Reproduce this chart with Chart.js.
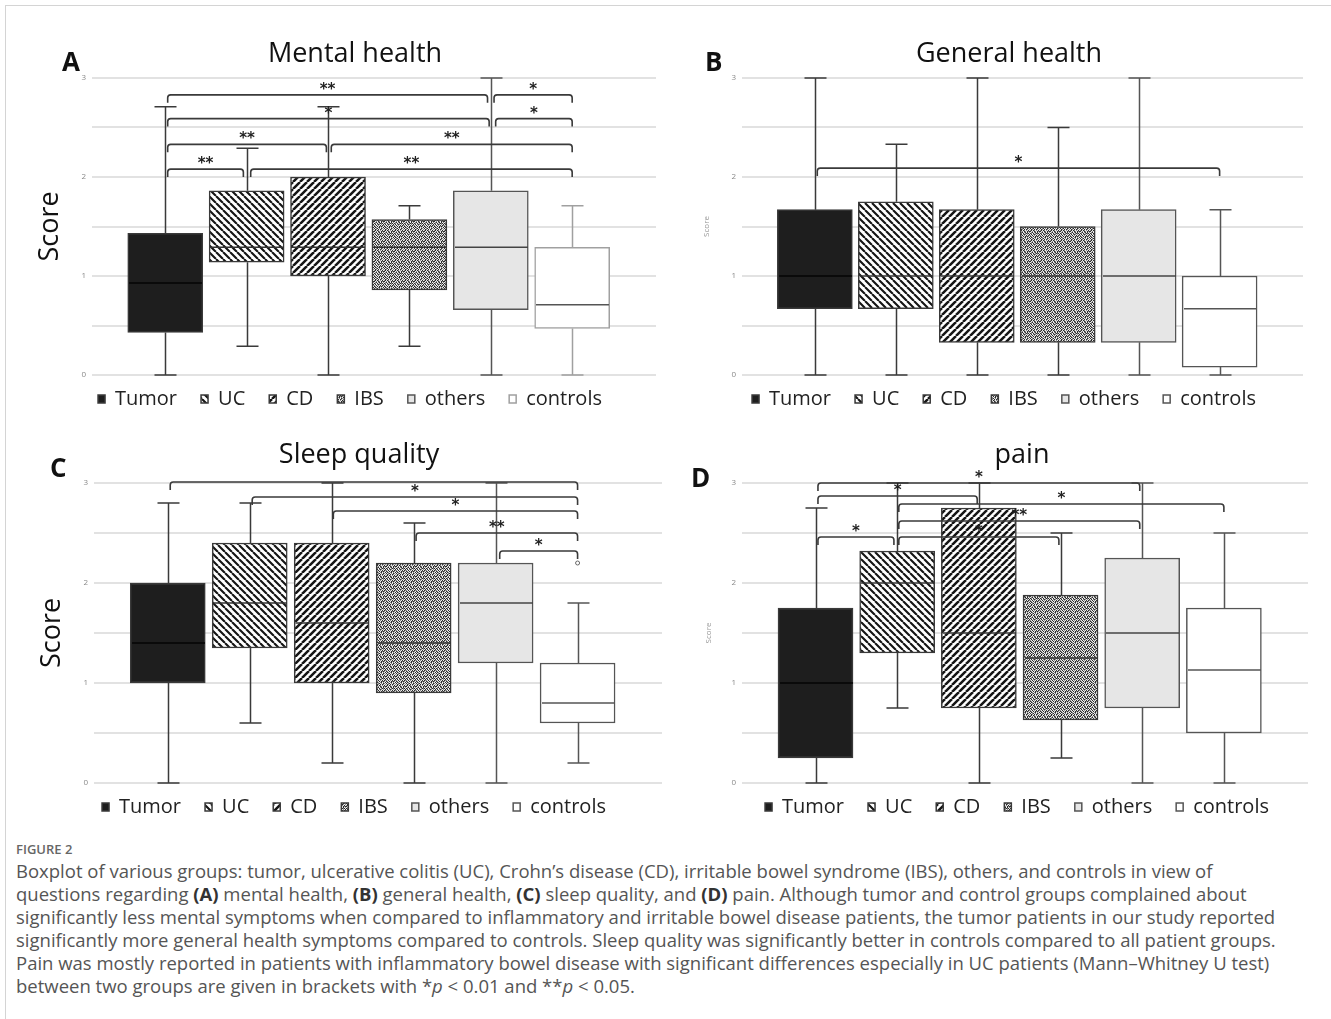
<!DOCTYPE html>
<html>
<head>
<meta charset="utf-8">
<script src="https://cdn.jsdelivr.net/npm/chart.js@4.4.1/dist/chart.umd.min.js"></script>
<style>
  body { margin: 0; background: #fff; width: 1331px; height: 1019px; position: relative; overflow: hidden; font-family: 'Open Sans', sans-serif; }
  .frame { position: absolute; left: 5px; top: 5px; right: 0; bottom: 0; border-top: 1px solid #d4d4d4; border-left: 1px solid #d4d4d4; }
  .panel { position: absolute; }
  .letter { position: absolute; font-weight: bold; font-size: 26px; line-height: 26px; color: #111; }
  .figlabel { position: absolute; left: 16px; top: 843px; font-size: 13px; line-height: 13px; font-weight: 600; color: #666; }
  .caption { position: absolute; left: 16px; top: 859px; font-size: 18.5px; line-height: 23px; color: #555; white-space: nowrap; }
  .caption b { color: #333; }
</style>
</head>
<body>
<div class="frame"></div>
<div class="panel" style="left:34px;top:28px"><canvas id="chartA" width="642" height="391"></canvas></div>
<div class="panel" style="left:690px;top:28px"><canvas id="chartB" width="638" height="391"></canvas></div>
<div class="panel" style="left:36px;top:433px"><canvas id="chartC" width="646" height="394"></canvas></div>
<div class="panel" style="left:700px;top:433px"><canvas id="chartD" width="644" height="394"></canvas></div>
<div class="letter" style="left:62px;top:48px">A</div>
<div class="letter" style="left:705px;top:48px">B</div>
<div class="letter" style="left:50px;top:454px">C</div>
<div class="letter" style="left:691px;top:464px">D</div>
<div class="figlabel">FIGURE 2</div>
<div class="caption">
Boxplot of various groups: tumor, ulcerative colitis (UC), Crohn’s disease (CD), irritable bowel syndrome (IBS), others, and controls in view of<br>
questions regarding <b>(A)</b> mental health, <b>(B)</b> general health, <b>(C)</b> sleep quality, and <b>(D)</b> pain. Although tumor and control groups complained about<br>
significantly less mental symptoms when compared to inflammatory and irritable bowel disease patients, the tumor patients in our study reported<br>
significantly more general health symptoms compared to controls. Sleep quality was significantly better in controls compared to all patient groups.<br>
Pain was mostly reported in patients with inflammatory bowel disease with significant differences especially in UC patients (Mann–Whitney U test)<br>
between two groups are given in brackets with *<i>p</i> &lt; 0.01 and **<i>p</i> &lt; 0.05.
</div>
<script>
const groups = ['Tumor', 'UC', 'CD', 'IBS', 'others', 'controls'];

// (A) Mental health
const mentalMin = [0, 0.29, 0, 0.29, 0, 0];
const mentalQ1 = [0.43, 1.14, 1.0, 0.86, 0.66, 0.47];
const mentalMedian = [0.93, 1.29, 1.29, 1.29, 1.29, 0.71];
const mentalQ3 = [1.43, 1.86, 2.0, 1.57, 1.86, 1.29];
const mentalMax = [2.71, 2.29, 2.71, 1.71, 3.0, 1.71];
// brackets: [from group, to group, level, label]
const mentalBrackets = [
  [0.03, 3.96, 2.83, '**'], [4.04, 5, 2.83, '*'],
  [0.03, 3.98, 2.59, '*'], [4.06, 5, 2.59, '*'],
  [0.03, 1.98, 2.33, '**'], [2.04, 5, 2.33, '**'],
  [0.03, 0.96, 2.08, '**'], [1.05, 5, 2.08, '**']
];

// (B) General health
const generalMin = [0, 0, 0, 0, 0, 0];
const generalQ1 = [0.67, 0.67, 0.33, 0.33, 0.33, 0.08];
const generalMedian = [1.0, 1.0, 1.0, 1.0, 1.0, 0.67];
const generalQ3 = [1.67, 1.75, 1.67, 1.5, 1.67, 1.0];
const generalMax = [3.0, 2.33, 3.0, 2.5, 3.0, 1.67];
const generalBrackets = [[0.03, 5, 2.09, '*']];

// (C) Sleep quality
const sleepMin = [0, 0.6, 0.2, 0, 0, 0.2];
const sleepQ1 = [1.0, 1.35, 1.0, 0.9, 1.2, 0.6];
const sleepMedian = [1.4, 1.8, 1.6, 1.4, 1.8, 0.8];
const sleepQ3 = [2.0, 2.4, 2.4, 2.2, 2.2, 1.2];
const sleepMax = [2.8, 2.8, 3.0, 2.6, 3.0, 1.8];
const sleepOutliers = [[5, 2.2]];
const sleepBrackets = [
  [0.03, 5, 3.01, ''], [1.03, 5, 2.86, '*'], [2.02, 5, 2.72, '*'],
  [3.03, 5, 2.5, '**'], [4.05, 5, 2.32, '*']
];

// (D) Pain
const painMin = [0, 0.75, 0, 0.25, 0, 0];
const painQ1 = [0.25, 1.3, 0.75, 0.63, 0.75, 0.5];
const painMedian = [1.0, 2.0, 1.5, 1.25, 1.5, 1.13];
const painQ3 = [1.75, 2.32, 2.75, 1.88, 2.25, 1.75];
const painMax = [2.75, 3.0, 3.0, 2.5, 3.0, 2.5];
const painBrackets = [
  [0.03, 3.97, 3.0, '*'], [0.03, 1.98, 2.87, '*'], [1.02, 5, 2.79, '*'],
  [1.02, 3.97, 2.62, '**'], [0.03, 0.96, 2.46, '*'], [1.02, 2.98, 2.46, '*']
];

Chart.defaults.font.family = "'Open Sans', sans-serif";

// fill patterns
function stripes(forward) {
  const s = 7;
  const c = document.createElement('canvas');
  c.width = c.height = s;
  const g = c.getContext('2d');
  g.fillStyle = '#fff';
  g.fillRect(0, 0, s, s);
  g.strokeStyle = '#151515';
  g.lineWidth = forward ? 2.5 : 2.1;
  g.beginPath();
  for (const k of [-s, 0, s]) {
    if (forward) { g.moveTo(k, s); g.lineTo(k + s, 0); }
    else { g.moveTo(k, 0); g.lineTo(k + s, s); }
  }
  g.stroke();
  return g.createPattern(c, 'repeat');
}
function speckle() {
  const rows = ['1021020120', '0120101202', '2101202010', '1020120121', '0210210102',
                '1201021210', '0102120201', '2010201012', '1201012120', '0120210201'];
  const shades = { '0': '#efefef', '1': '#2a2a2a', '2': '#8a8a8a' };
  const c = document.createElement('canvas');
  c.width = c.height = 10;
  const g = c.getContext('2d');
  rows.forEach((r, y) => r.split('').forEach((b, x) => {
    g.fillStyle = shades[b];
    g.fillRect(x, y, 1, 1);
  }));
  return g.createPattern(c, 'repeat');
}
const fills = ['#1e1e1e', stripes(false), stripes(true), speckle(), '#e6e6e6', '#ffffff'];
const medianColors = ['#050505', '#333', '#333', '#333', '#444', '#555'];

function boxExtras(st, brackets, outliers, lineColors) {
  return {
    id: 'boxExtras',
    afterDatasetsDraw(chart) {
      const { ctx, scales: { x, y } } = chart;
      ctx.save();
      ctx.lineWidth = 1.5;
      st.min.forEach((_, i) => {
        const cx = Math.round(x.getPixelForValue(i)) + 0.5;
        const half = chart.getDatasetMeta(i).data[0].width / 2;
        const yMin = y.getPixelForValue(st.min[i]), yQ1 = y.getPixelForValue(st.q1[i]);
        const yQ3 = y.getPixelForValue(st.q3[i]), yMax = y.getPixelForValue(st.max[i]);
        const yMed = y.getPixelForValue(st.med[i]);
        ctx.strokeStyle = lineColors[i];
        ctx.beginPath();
        ctx.moveTo(cx, yQ3); ctx.lineTo(cx, yMax);
        ctx.moveTo(cx - 11, yMax); ctx.lineTo(cx + 11, yMax);
        ctx.moveTo(cx, yQ1); ctx.lineTo(cx, yMin);
        ctx.moveTo(cx - 11, yMin); ctx.lineTo(cx + 11, yMin);
        ctx.stroke();
        ctx.strokeStyle = medianColors[i];
        ctx.beginPath();
        ctx.moveTo(cx - half + 1, yMed); ctx.lineTo(cx + half - 1, yMed);
        ctx.stroke();
      });
      (outliers || []).forEach(([g, v]) => {
        ctx.strokeStyle = '#666';
        ctx.lineWidth = 1;
        ctx.beginPath();
        ctx.arc(x.getPixelForValue(g), y.getPixelForValue(v), 2, 0, Math.PI * 2);
        ctx.stroke();
      });
      // significance brackets
      ctx.strokeStyle = '#3a3a3a';
      ctx.lineWidth = 1.6;
      ctx.fillStyle = '#222';
      ctx.font = 'bold 15px "DejaVu Sans"';
      ctx.textAlign = 'center';
      ctx.textBaseline = 'alphabetic';
      brackets.forEach(([a, b, v, label]) => {
        const x1 = x.getPixelForValue(a), x2 = x.getPixelForValue(b), yy = y.getPixelForValue(v);
        ctx.beginPath();
        ctx.moveTo(x1, yy + 8);
        ctx.arcTo(x1, yy, x1 + 3, yy, 3);
        ctx.arcTo(x2, yy, x2, yy + 3, 3);
        ctx.lineTo(x2, yy + 8);
        ctx.stroke();
        if (label) ctx.fillText(label, (x1 + x2) / 2, yy - 1);
      });
      ctx.restore();
    }
  };
}

function makePanel(id, o) {
  const datasets = groups.map((g, i) => ({
    label: g,
    data: [{ x: i, y: [o.st.q1[i], o.st.q3[i]] }],
    backgroundColor: fills[i],
    borderColor: o.lineColors[i],
    borderWidth: 1.5,
    borderSkipped: false,
    grouped: false,
    barThickness: 75
  }));
  new Chart(document.getElementById(id), {
    type: 'bar',
    data: { datasets },
    options: {
      responsive: false,
      animation: false,
      events: [],
      plugins: {
        title: {
          display: true, text: o.title, color: '#111',
          font: { size: 27, weight: 'normal' },
          padding: { top: o.titleTop, bottom: 17.6 - o.titleTop }
        },
        legend: {
          position: 'bottom',
          labels: {
            boxWidth: 7, boxHeight: 8, color: '#222', padding: 14,
            font: { size: 20 },
            generateLabels: chart => Chart.defaults.plugins.legend.labels.generateLabels(chart)
              .map(item => ({ ...item, text: item.text + '\u2002' }))
          }
        },
        tooltip: { enabled: false }
      },
      scales: {
        x: { type: 'linear', offset: false, min: -0.9, max: 6.03, display: false },
        y: {
          min: 0, max: 3,
          afterFit: s => { s.width = o.yWidth; },
          border: { display: false },
          grid: { color: '#e2e2e2', lineWidth: 2, drawTicks: false },
          ticks: {
            stepSize: 0.5, padding: 6, color: '#888', font: { size: 8 },
            callback: v => Number.isInteger(v) ? v : ''
          },
          title: {
            display: true, text: 'Score', color: o.yTitleColor,
            font: { size: o.yTitleSize }, padding: { top: o.yTitlePad, bottom: 0 }
          }
        },
        // empty right-hand spacer so the title centres like the original figure
        gap: {
          type: 'linear', position: 'right', display: true,
          afterFit: s => { s.width = o.rightGap; },
          border: { display: false }, grid: { display: false }, ticks: { display: false }
        }
      }
    },
    plugins: [boxExtras(o.st, o.brackets, o.outliers, o.lineColors)]
  });
}

const darkLines = ['#3a3a3a', '#3a3a3a', '#3a3a3a', '#3a3a3a', '#555', '#555'];

makePanel('chartA', {
  title: 'Mental health', titleTop: 10, yWidth: 58, rightGap: 20, yTitleSize: 27, yTitleColor: '#111', yTitlePad: 0,
  st: { min: mentalMin, q1: mentalQ1, med: mentalMedian, q3: mentalQ3, max: mentalMax },
  brackets: mentalBrackets,
  lineColors: ['#3a3a3a', '#3a3a3a', '#3a3a3a', '#3a3a3a', '#555', '#a0a0a0']
});
makePanel('chartB', {
  title: 'General health', titleTop: 10, yWidth: 52, rightGap: 25, yTitleSize: 8, yTitleColor: '#999', yTitlePad: 12,
  st: { min: generalMin, q1: generalQ1, med: generalMedian, q3: generalQ3, max: generalMax },
  brackets: generalBrackets, lineColors: darkLines
});
makePanel('chartC', {
  title: 'Sleep quality', titleTop: 6.5, yWidth: 58, rightGap: 20, yTitleSize: 27, yTitleColor: '#111', yTitlePad: 0,
  st: { min: sleepMin, q1: sleepQ1, med: sleepMedian, q3: sleepQ3, max: sleepMax },
  brackets: sleepBrackets, outliers: sleepOutliers, lineColors: darkLines
});
makePanel('chartD', {
  title: 'pain', titleTop: 6.5, yWidth: 42, rightGap: 36, yTitleSize: 8, yTitleColor: '#999', yTitlePad: 4,
  st: { min: painMin, q1: painQ1, med: painMedian, q3: painQ3, max: painMax },
  brackets: painBrackets, lineColors: darkLines
});
</script>
</body>
</html>
